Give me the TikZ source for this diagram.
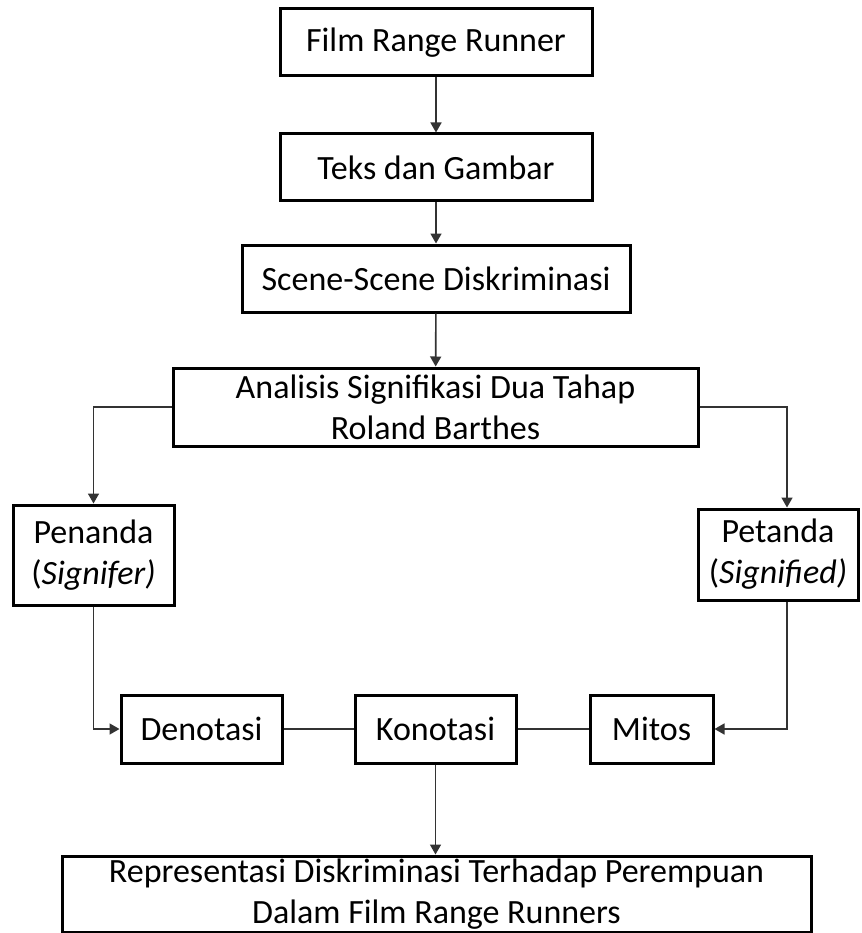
\documentclass[tikz,border=0pt]{standalone}
\usepackage{fontspec}
\setmainfont{Carlito}
\usetikzlibrary{arrows.meta,calc}
\tikzset{
	kotak/.style={draw=black, line width=3pt, inner sep=0pt, align=center, font=\fontsize{34}{41}\selectfont},
	panah/.style={line width=1.6pt, draw=black!80, -{Triangle[width=11pt,length=10pt]}},
	garis/.style={line width=1.6pt, draw=black!80}
}

\begin{document}
\begin{tikzpicture}[x=1pt,y=-1pt]
		%%%%% START %%%%%
		\useasboundingbox (0,0) rectangle (861,933);
		
		\node[kotak, minimum width=312, minimum height=67] (film) at (436, 42.5) {Film Range Runner};
		\node[kotak, minimum width=312, minimum height=67] (teks) at (436, 167.5) {Teks dan Gambar};
		\node[kotak, minimum width=388, minimum height=67] (scene) at (436, 278.5) {Scene-Scene Diskriminasi};
		\node[kotak, minimum width=525, minimum height=78] (analisis) at (435.5, 407) {Analisis Signifikasi Dua Tahap\\Roland Barthes};
		
		\node[kotak, minimum width=161, minimum height=100] (penanda) at (93.5, 555) {Penanda\\(\textit{Signifer)}};
		\node[kotak, minimum width=160, minimum height=91] (petanda) at (778, 554.5) {Petanda\\(\textit{Signified)}};
		
		\node[kotak, minimum width=161, minimum height=68] (denotasi) at (201.5, 729) {Denotasi};
		\node[kotak, minimum width=161, minimum height=68] (konotasi) at (435.5, 729) {Konotasi};
		\node[kotak, minimum width=123, minimum height=68] (mitos) at (651.5, 729) {Mitos};
		
		\node[kotak, minimum width=749, minimum height=76] (repr) at (436.5, 894) {Representasi Diskriminasi Terhadap Perempuan\\Dalam Film Range Runners};
		
		\draw[panah] (film) -- (teks);
		\draw[panah] (teks) -- (scene);
		\draw[panah] (scene) -- (analisis);
		
		\draw[panah] (analisis.west) -| (penanda.north);
		\draw[panah] (analisis.east) -| ($(petanda.north)+(9,0)$);
		
		\draw[panah] (penanda.south) |- (denotasi.west);
		\draw[panah] ($(petanda.south)+(9,0)$) |- (mitos.east);
		
		\draw[garis] (denotasi) -- (konotasi);
		\draw[garis] (konotasi) -- (mitos);
		\draw[panah] (konotasi.south) -- (konotasi.south |- repr.north);
		
		%%%%% END %%%%%
\end{tikzpicture}
\end{document}
